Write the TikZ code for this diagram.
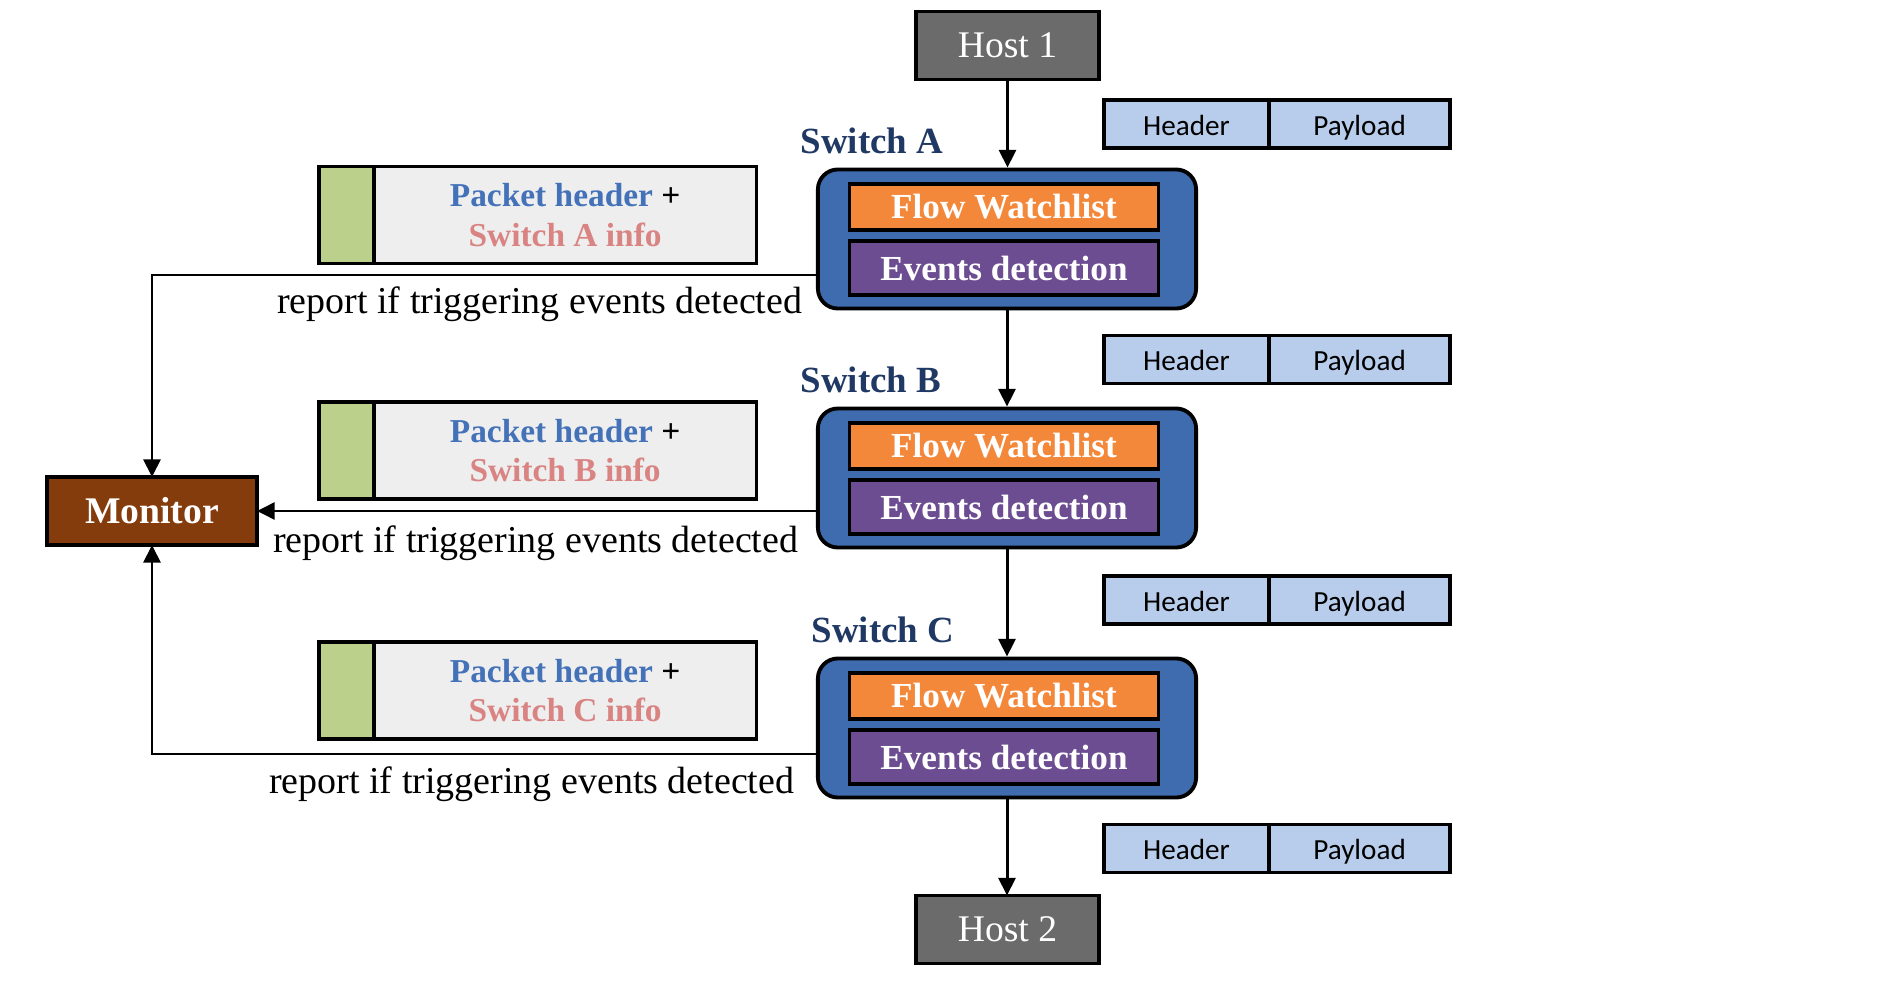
\documentclass[tikz,border=0pt]{standalone}
\usepackage{fontspec}
\setmainfont{Liberation Serif}
\newfontfamily\calibfont{Carlito}
\usepackage{tikz}
\usetikzlibrary{arrows.meta,positioning}
\definecolor{hostgray}{HTML}{6B6B6B}
\definecolor{swblue}{HTML}{3F6CAF}
\definecolor{flowor}{HTML}{F4883A}
\definecolor{evpurple}{HTML}{6D4D91}
\definecolor{hdrblue}{HTML}{B8CDEB}
\definecolor{pktgray}{HTML}{EEEEEE}
\definecolor{taggreen}{HTML}{BBD08B}
\definecolor{pktblue}{HTML}{4472B9}
\definecolor{infopink}{HTML}{D98383}
\definecolor{navy}{HTML}{1F3864}
\definecolor{monbrown}{HTML}{843C0C}

\begin{document}
\begin{tikzpicture}[x=0.01cm,y=-0.01cm,
  box/.style={draw,line width=0.9pt,outer sep=0pt,inner sep=0pt},
  host/.style={box,line width=1pt,fill=hostgray,text=white,minimum width=1.83cm,minimum height=0.68cm,font=\fontsize{10.7}{12}\selectfont},
  switch/.style={draw,line width=1.1pt,fill=swblue,rounded corners=0.2cm,minimum width=3.78cm,minimum height=1.39cm},
  flow/.style={box,fill=flowor,text=white,minimum width=3.09cm,minimum height=0.46cm,font=\bfseries\fontsize{10}{12}\selectfont},
  events/.style={box,fill=evpurple,text=white,minimum width=3.09cm,minimum height=0.54cm,font=\bfseries\fontsize{10}{12}\selectfont},
  swlabel/.style={text=navy,anchor=base,font=\bfseries\fontsize{10.5}{12}\selectfont},
  hdr/.style={box,line width=1pt,fill=hdrblue,minimum height=0.48cm,text height=1.6ex,text depth=0.2ex,font=\calibfont\fontsize{8.3}{10}\selectfont},
  tag/.style={box,fill=taggreen,minimum width=0.55cm,minimum height=0.97cm},
  pkt/.style={box,fill=pktgray,minimum width=3.82cm,minimum height=0.97cm,align=center,font=\bfseries\fontsize{9.5}{11.2}\selectfont},
  note/.style={anchor=base east,inner sep=0pt,font=\fontsize{10.8}{12}\selectfont},
  flowarr/.style={line width=0.85pt,-{Triangle[length=5pt,width=4.8pt]}}]
  \useasboundingbox (0,0) rectangle (1893,985);

  \node[host] (h1) at (1007.5,45.5) {Host 1};
  \node[host] (h2) at (1007.5,929.5) {Host 2};
  \node[box,line width=1pt,fill=monbrown,text=white,minimum width=2.1cm,minimum height=0.68cm,
        font=\bfseries\fontsize{10.7}{12}\selectfont] (mon) at (152,511) {Monitor};

  % switches, their reports and the packets sent to the monitor
  \foreach \s/\y/\lx/\py/\ry/\rx/\by in {A/239/872/215/275/803/314,
                                         B/478/871/450.5/511/799/552,
                                         C/728/883/690.5/754/795/793}{
    \node[switch] (sw\s) at (1007,\y) {};
    \node[flow] (fw\s) at ([xshift=-0.03cm,yshift=0.32cm]sw\s) {Flow Watchlist};
    \node[events] (ev\s) at ([xshift=-0.03cm,yshift=-0.29cm]sw\s) {Events detection};
    \node[swlabel] (lb\s) at (\lx,\y-85.5) {Switch \s};
    \node[tag] (tg\s) at (346.5,\py) {};
    \node[pkt,right=0pt of tg\s] (pk\s) {{\color{pktblue}Packet header} +\\{\color{infopink}Switch \s{} info}};
    \coordinate (tap\s) at (817,\ry);
    \node[note] (rp\s) at (\rx,\by) {report if triggering events detected};
  }

  % packet on the wire
  \foreach \i/\y in {1/124,2/359.5,3/600,4/848.5}{
    \node[hdr,minimum width=1.65cm] (hd\i) at (1186.5,\y) {Header};
    \node[hdr,minimum width=1.81cm,right=0pt of hd\i] (pl\i) {Payload};
  }

  \draw[flowarr] (h1.south) -- (h1.south |- swA.north);
  \draw[flowarr] (swA.south) -- (swB.north);
  \draw[flowarr] (swB.south) -- (swC.north);
  \draw[flowarr] (swC.south) -- (swC.south |- h2.north);

  \draw[flowarr] (tapA) -| (mon);
  \draw[flowarr] (tapB) -- (tapB -| mon.east);
  \draw[flowarr] (tapC) -| (mon);
\end{tikzpicture}
\end{document}
